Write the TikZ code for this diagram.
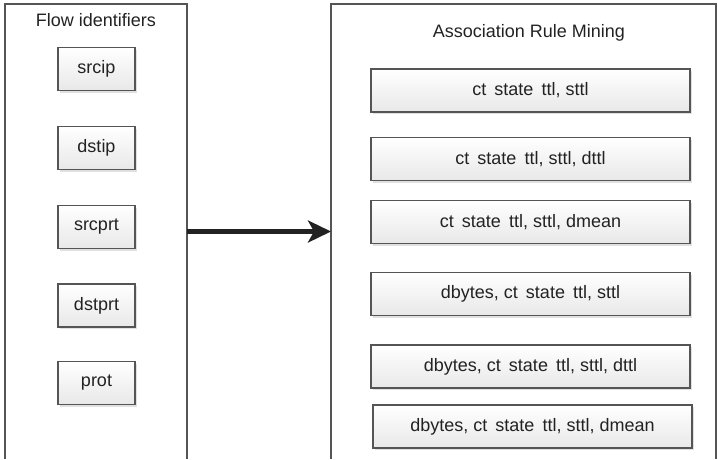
\documentclass[tikz,border=0pt]{standalone}
\usepackage{fontspec}
\setmainfont{Liberation Sans}
\usepackage{xcolor}
\usepackage{tikz}
\usetikzlibrary{arrows.meta,shadows}

\definecolor{edgegray}{HTML}{555555}
\definecolor{textgray}{HTML}{222222}
\newcommand{\wgap}{\hspace{0.45em}}

\begin{document}
\begin{tikzpicture}[
    x=1pt, y=-1pt,
    panel/.style={rectangle, inner sep=0pt, outer sep=0pt, minimum height=455pt},
    border/.style={draw=edgegray, line width=1.1pt},
    title/.style={font=\fontsize{18}{21}\selectfont, text=textgray},
    field/.style={rectangle, draw=edgegray, line width=1.1pt, top color=white, bottom color=gray!18,
        drop shadow={shadow xshift=2pt, shadow yshift=-2pt, fill=gray!40, opacity=0.6},
        font=\fontsize{18}{21}\selectfont, text=textgray, minimum height=43pt, inner sep=0pt},
    small/.style={field, minimum width=77pt},
    wide/.style={field, minimum width=319pt},
    arrow/.style={-{Stealth[length=23pt, width=22pt, inset=6pt]}, line width=5pt, draw=textgray}
]
    \useasboundingbox (0,0) rectangle (718,459);

    % Left panel: flow identifiers
    \node[panel, minimum width=182pt] (left) at (96,231.5) {};
    \draw[border] (left.south west) |- (left.north east) -- (left.south east);
    \node[title] (lefttitle) at (96,20) {Flow identifiers};
    \node[small] (srcip) at (96.5,69) {srcip};
    \node[small] (dstip) at (96.5,148) {dstip};
    \node[small] (srcprt) at (96.5,227) {srcprt};
    \node[small] (dstprt) at (96.5,305.5) {dstprt};
    \node[small] (prot) at (96.5,383) {prot};

    % Right panel: association rules
    \node[panel, minimum width=385pt] (right) at (523.5,231.5) {};
    \draw[border] (right.south west) |- (right.north east) -- (right.south east);
    \node[title] (righttitle) at (529,33) {Association Rule Mining};
    \node[wide] (ruleA) at (530.5,90.5) {ct\wgap state\wgap ttl, sttl};
    \node[wide] (ruleB) at (530.5,159) {ct\wgap state\wgap ttl, sttl, dttl};
    \node[wide] (ruleC) at (530.5,222) {ct\wgap state\wgap ttl, sttl, dmean};
    \node[wide] (ruleD) at (530.5,294) {dbytes, ct\wgap state\wgap ttl, sttl};
    \node[wide] (ruleE) at (530.5,366.5) {dbytes, ct\wgap state\wgap ttl, sttl, dttl};
    \node[wide] (ruleF) at (532.5,426.5) {dbytes, ct\wgap state\wgap ttl, sttl, dmean};

    % Arrow between panels
    \draw[arrow] (left.east) -- (right.west);
\end{tikzpicture}
\end{document}
